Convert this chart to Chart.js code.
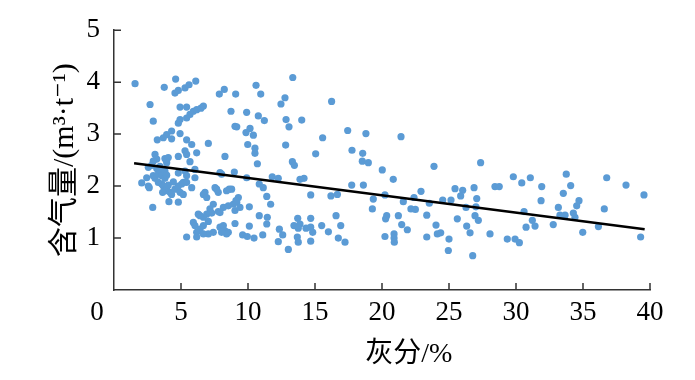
<!DOCTYPE html>
<html>
<head>
<meta charset="utf-8">
<script src="https://cdn.jsdelivr.net/npm/chart.js@4.4.0/dist/chart.umd.min.js"></script>
<style>
  html, body { margin: 0; padding: 0; background: #fff; }
  #wrap { width: 695px; height: 380px; }
</style>
</head>
<body>
<div id="wrap"><canvas id="gasChart" width="695" height="380"></canvas></div>
<script>
// ash content (%) and gas content (m3/t)
const ash = [
  1.57, 2.69, 2.93, 3.75, 4.60, 4.55, 4.80, 3.23, 3.68, 3.93,
  4.30, 4.30, 4.93, 4.93, 4.93, 4.80, 3.06, 3.19, 2.93, 3.80,
  4.05, 3.93, 4.80, 2.56, 2.81, 3.19, 3.43, 3.56, 3.80, 2.44,
  2.93, 3.06, 3.31, 3.56, 3.80, 3.93, 2.07, 2.56, 3.31, 3.56,
  3.68, 3.93, 4.05, 3.80, 4.18, 4.43, 4.55, 4.80, 4.93, 4.80,
  2.63, 2.89, 4.10, 4.80, 4.30, 3.63, 5.30, 5.60, 6.10, 5.42,
  5.92, 6.17, 6.49, 6.67, 5.67, 5.42, 5.42, 5.80, 7.04, 5.30,
  5.42, 6.17, 5.67, 6.04, 8.28, 7.86, 8.23, 8.73, 9.03, 5.30,
  5.42, 5.17, 5.80, 6.04, 5.05, 5.42, 6.79, 7.54, 8.03, 7.78,
  8.78, 5.17, 6.67, 6.92, 7.66, 8.40, 7.41, 7.16, 6.92, 6.67,
  6.29, 5.92, 6.04, 6.67, 6.42, 6.17, 7.29, 7.78, 8.16, 8.53,
  8.90, 9.16, 7.91, 8.16, 8.28, 8.53, 8.40, 8.03, 7.41, 7.04,
  5.42, 6.17, 7.04, 9.28, 9.10, 9.03, 9.40, 10.10, 7.91, 6.42,
  6.67, 8.60, 9.90, 8.98, 7.91, 9.08, 9.90, 9.16, 10.15, 9.85,
  10.40, 9.98, 10.52, 10.52, 10.70, 10.60, 10.95, 10.77, 11.22, 12.76,
  12.46, 13.34, 12.84, 13.06, 14.01, 12.81, 13.31, 13.46, 15.57, 15.05,
  16.24, 17.44, 17.76, 11.81, 12.26, 13.88, 14.18, 10.84, 11.14, 11.40,
  11.69, 14.68, 16.19, 16.67, 17.74, 10.84, 11.44, 11.40, 9.03, 10.10,
  9.60, 9.95, 10.45, 11.10, 12.34, 12.59, 12.26, 13.01, 13.71, 13.43,
  13.88, 13.75, 14.68, 14.68, 14.33, 14.83, 13.68, 13.75, 14.68, 15.50,
  16.00, 16.57, 16.92, 16.74, 17.24, 18.80, 21.42, 18.56, 18.53, 18.98,
  20.02, 20.84, 23.88, 27.36, 18.61, 19.35, 19.28, 20.22, 21.59, 22.39,
  22.91, 22.16, 22.49, 23.34, 23.53, 20.35, 20.27, 21.22, 21.47, 21.89,
  20.22, 20.90, 20.90, 20.92, 23.34, 24.03, 24.13, 24.38, 25.00, 24.95,
  24.53, 25.15, 25.45, 26.02, 25.87, 26.27, 26.87, 27.07, 27.01, 25.62,
  26.32, 26.57, 26.94, 27.19, 26.77, 28.06, 28.43, 28.75, 29.80, 30.43,
  31.07, 31.92, 31.87, 33.75, 34.08, 33.53, 33.16, 33.28, 33.66, 34.28,
  34.53, 34.70, 34.40, 30.60, 31.22, 30.75, 31.42, 32.78, 34.98, 36.15,
  36.59, 36.77, 38.21, 39.55, 39.30, 29.35, 29.93, 30.25
];
const gas = [
  3.97, 3.57, 3.25, 3.90, 4.06, 3.79, 3.84, 2.89, 2.93, 2.99,
  3.06, 2.91, 3.01, 3.52, 3.28, 3.21, 2.61, 2.52, 2.48, 2.53,
  2.55, 2.45, 2.57, 2.36, 2.40, 2.34, 2.38, 2.32, 2.29, 2.16,
  2.20, 2.15, 2.23, 2.20, 2.15, 2.21, 2.06, 2.00, 2.07, 2.04,
  2.00, 1.97, 2.02, 1.91, 1.88, 2.08, 1.94, 2.00, 1.88, 2.25,
  1.97, 1.59, 1.70, 1.69, 1.84, 1.88, 3.89, 3.95, 4.02, 3.52,
  3.44, 3.47, 3.50, 3.54, 3.38, 3.31, 2.89, 2.80, 2.82, 2.68,
  2.61, 2.64, 2.47, 2.32, 2.57, 3.77, 3.86, 3.44, 3.15, 2.29,
  2.20, 2.07, 1.97, 2.16, 2.04, 2.07, 1.88, 1.97, 2.23, 1.88,
  1.94, 1.84, 1.84, 1.78, 1.94, 1.91, 1.65, 1.56, 1.46, 1.40,
  1.46, 1.30, 1.24, 1.24, 1.17, 1.11, 1.48, 1.51, 1.59, 1.62,
  1.65, 1.69, 1.21, 1.24, 1.14, 1.11, 1.08, 1.11, 1.11, 1.08,
  1.02, 1.02, 1.32, 1.78, 1.72, 1.53, 1.59, 1.60, 1.49, 1.43,
  1.08, 1.94, 2.16, 2.27, 2.26, 3.77, 3.42, 3.14, 3.11, 3.03,
  2.98, 2.80, 2.73, 2.63, 2.43, 3.94, 3.77, 3.35, 3.26, 3.70,
  3.58, 4.09, 3.28, 3.14, 3.27, 2.79, 2.47, 2.40, 2.93, 2.62,
  3.63, 3.07, 2.69, 2.18, 2.15, 2.13, 2.15, 2.04, 1.97, 1.80,
  1.65, 1.83, 1.81, 1.84, 2.02, 1.43, 1.40, 1.27, 1.28, 1.23,
  1.06, 1.03, 1.00, 1.06, 1.17, 1.06, 0.93, 0.78, 1.38, 1.24,
  1.27, 1.19, 1.38, 1.21, 1.19, 1.11, 1.02, 0.92, 0.94, 1.24,
  1.12, 1.43, 1.24, 1.00, 0.92, 3.01, 2.95, 2.63, 2.48, 2.45,
  2.31, 2.13, 2.38, 2.45, 2.02, 1.75, 1.56, 1.83, 1.70, 1.78,
  1.90, 1.56, 1.55, 1.44, 1.67, 1.43, 1.37, 1.43, 1.26, 1.16,
  1.03, 1.08, 1.00, 0.92, 1.02, 1.25, 1.08, 1.10, 0.98, 0.76,
  1.73, 1.73, 1.95, 1.92, 1.81, 1.59, 1.97, 1.76, 1.60, 1.37,
  1.23, 1.10, 1.43, 1.34, 0.66, 1.08, 1.99, 1.99, 2.18, 2.06,
  2.16, 1.99, 1.72, 2.23, 2.01, 1.86, 1.59, 1.44, 1.44, 1.48,
  1.62, 1.72, 1.40, 1.51, 1.34, 1.21, 1.23, 1.26, 1.11, 1.22,
  1.56, 2.16, 2.02, 1.83, 1.02, 0.98, 0.98, 0.91
];

// fitted trend line end points
const trendAsh = [1.5, 39.6];
const trendGas = [2.44, 1.17];

const xTicks = [0, 5, 10, 15, 20, 25, 30, 35, 40];
const yTicks = [1, 2, 3, 4, 5];
const xTitle = '灰分/%';
const yTitle = '含气量/(m³·t⁻¹)';

const serif = '"Liberation Serif", "DejaVu Serif", "Noto Serif", Times, serif, "Noto Sans CJK SC"';

// inward tick marks, the origin "0" and the x title
const axisExtras = {
  id: 'axisExtras',
  afterDraw(chart) {
    const { ctx } = chart;
    const x = chart.scales.x, y = chart.scales.y;
    ctx.save();
    ctx.strokeStyle = '#333';
    ctx.lineWidth = 1.5;
    ctx.beginPath();
    yTicks.forEach(v => {
      const py = y.getPixelForValue(v);
      ctx.moveTo(x.left, py);
      ctx.lineTo(x.left + 7, py);
    });
    xTicks.forEach(v => {
      if (v === 0) return;
      const px = x.getPixelForValue(v);
      ctx.moveTo(px, y.bottom);
      ctx.lineTo(px, y.bottom - 7);
    });
    ctx.stroke();

    ctx.fillStyle = '#000';
    ctx.textAlign = 'center';
    ctx.textBaseline = 'middle';
    ctx.font = '27px ' + serif;
    ctx.fillText('0', x.left - 17, y.bottom + 23);
    ctx.font = '28px ' + serif;
    ctx.fillText(xTitle, x.getPixelForValue(22), 355);
    ctx.restore();
  }
};

function drawChart() {
  const points = ash.map((a, i) => ({ x: a, y: gas[i] }));
  const trend = trendAsh.map((a, i) => ({ x: a, y: trendGas[i] }));

  new Chart(document.getElementById('gasChart'), {
    type: 'scatter',
    data: {
      datasets: [
        {
          type: 'line',
          data: trend,
          borderColor: '#000',
          borderWidth: 2.5,
          pointRadius: 0,
          fill: false
        },
        {
          data: points,
          backgroundColor: '#5b9bd5',
          borderWidth: 0,
          pointRadius: 3.6
        }
      ]
    },
    options: {
      responsive: false,
      animation: false,
      devicePixelRatio: 1,
      layout: { padding: { top: 27, right: 45, bottom: 0, left: 0 } },
      plugins: {
        legend: { display: false },
        tooltip: { enabled: false }
      },
      scales: {
        x: {
          type: 'linear',
          min: 0,
          max: 40,
          afterFit: s => { s.height = 90; },
          grid: { display: false, drawTicks: false },
          border: { display: true, color: '#333', width: 1.5 },
          ticks: {
            stepSize: 5,
            padding: 7,
            color: '#000',
            font: { family: serif, size: 27 },
            callback: v => (v === 0 ? '' : v)
          }
        },
        y: {
          min: 0,
          max: 5,
          afterFit: s => { s.width = 114; },
          grid: { display: false, drawTicks: false },
          border: { display: true, color: '#333', width: 1.5 },
          ticks: {
            stepSize: 1,
            padding: 14,
            color: '#000',
            font: { family: serif, size: 27 },
            callback: v => (v === 0 ? '' : v)
          },
          title: {
            display: true,
            text: yTitle,
            color: '#000',
            font: { family: serif, size: 30 },
            padding: { top: 47, bottom: 0 }
          }
        }
      }
    },
    plugins: [axisExtras]
  });
}

// make sure the serif face is ready before the canvas is painted
Promise.all([
  document.fonts.load('27px "Liberation Serif"'),
  document.fonts.load('28px "Noto Sans CJK SC"', '灰分含气量')
]).then(drawChart, drawChart);
</script>
</body>
</html>
